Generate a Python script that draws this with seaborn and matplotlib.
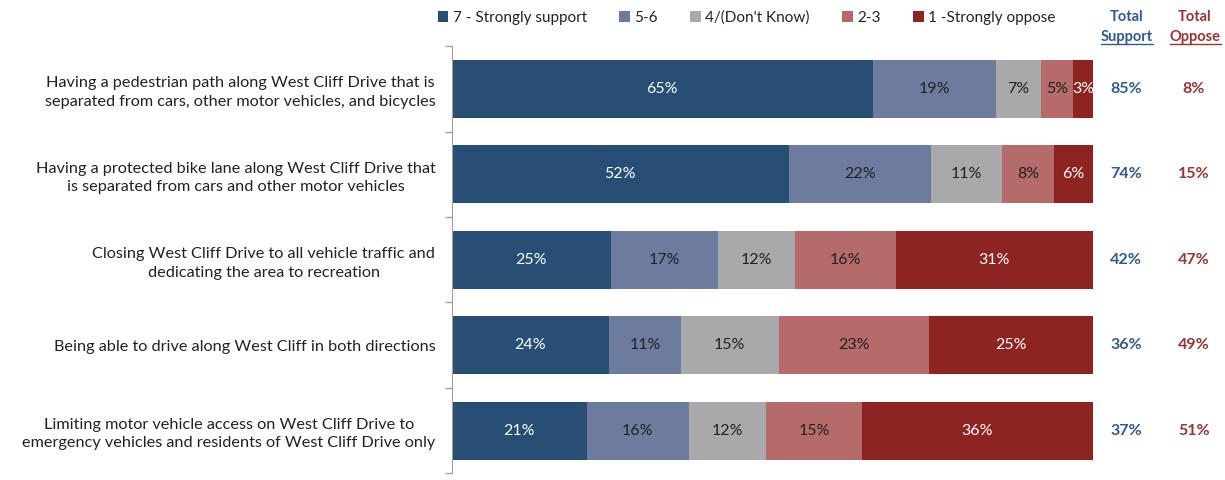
import numpy as np
import pandas as pd
import matplotlib
matplotlib.use("Agg")
import matplotlib.pyplot as plt
from matplotlib.patches import Patch
import seaborn as sns

# data
items = [
    "Having a pedestrian path along West Cliff Drive that is\nseparated from cars, other motor vehicles, and bicycles",
    "Having a protected bike lane along West Cliff Drive that\nis separated from cars and other motor vehicles",
    "Closing West Cliff Drive to all vehicle traffic and\ndedicating the area to recreation",
    "Being able to drive along West Cliff in both directions",
    "Limiting motor vehicle access on West Cliff Drive to\nemergency vehicles and residents of West Cliff Drive only",
]
levels = ["7 - Strongly support", "5-6", "4/(Don't Know)", "2-3", "1 -Strongly oppose"]
strong_support = [65, 52, 25, 24, 21]
support_56 = [19, 22, 17, 11, 16]
dont_know = [7, 11, 12, 15, 12]
oppose_23 = [5, 8, 16, 23, 15]
strong_oppose = [3, 6, 31, 25, 36]
total_support = [85, 74, 42, 36, 37]
total_oppose = [8, 15, 47, 49, 51]

colors = ["#274E74", "#6C7B9E", "#A9A9AC", "#B46B69", "#8D2422"]
text_colors = ["white", "#222222", "#222222", "#222222", "white"]

sns.set_style("white")
plt.rcParams["font.family"] = ["Lato", "DejaVu Sans"]

vals = np.array([strong_support, support_56, dont_know, oppose_23, strong_oppose], dtype=float)
shares = vals / vals.sum(axis=0)          # 100% stacked
cum = shares.cumsum(axis=0)

fig = plt.figure(figsize=(12.25, 4.8), dpi=100)
ax = fig.add_axes([0.369, 0.014, 0.523, 0.89])

# draw from the outermost cumulative layer inwards so the stack shows
for i in range(len(levels) - 1, -1, -1):
    df = pd.DataFrame({"item": items, "right": cum[i]})
    sns.barplot(data=df, x="right", y="item", color=colors[i], orient="h",
                width=0.68, saturation=1, ax=ax, edgecolor="none")

for i in range(len(levels)):
    for j in range(len(items)):
        mid = cum[i, j] - shares[i, j] / 2
        ax.text(mid, j, f"{int(vals[i, j])}%", ha="center", va="center",
                fontsize=11.5, color=text_colors[i])

ax.set_xlim(0, 1)
ax.set_ylim(4.5, -0.5)
ax.set_xlabel("")
ax.set_ylabel("")
ax.set_xticks([])
ax.set_yticks(np.arange(len(items)))
ax.set_yticklabels(items, fontsize=11.7, color="#222222", multialignment="center",
                   linespacing=1.4)
ax.set_yticks(np.arange(-0.5, len(items)), minor=True)
ax.tick_params(axis="y", which="major", left=False, length=0, pad=12)
ax.tick_params(axis="y", which="minor", left=True, length=5, color="#A0A0A0", width=1)
for s in ["top", "right", "bottom"]:
    ax.spines[s].set_visible(False)
ax.spines["left"].set_color("#A0A0A0")

# totals columns
for j in range(len(items)):
    ax.text(1.052, j, f"{total_support[j]}%", ha="center", va="center",
            fontsize=11.5, fontweight="bold", color="#2F5A8A", clip_on=False)
    ax.text(1.158, j, f"{total_oppose[j]}%", ha="center", va="center",
            fontsize=11.5, fontweight="bold", color="#943634", clip_on=False)

fig.text(1127 / 1225, 1 - 17 / 480, "Total", ha="center", va="center",
         fontsize=10.5, fontweight="bold", color="#2F5A8A")
t1 = fig.text(1127 / 1225, 1 - 37 / 480, "Support", ha="center", va="center",
              fontsize=10.5, fontweight="bold", color="#2F5A8A")
fig.text(1195 / 1225, 1 - 17 / 480, "Total", ha="center", va="center",
         fontsize=10.5, fontweight="bold", color="#943634")
t2 = fig.text(1195 / 1225, 1 - 37 / 480, "Oppose", ha="center", va="center",
              fontsize=10.5, fontweight="bold", color="#943634")

handles = [Patch(facecolor=c, edgecolor="none") for c in colors]
fig.legend(handles, levels, loc="center left", bbox_to_anchor=(424 / 1225, 1 - 18 / 480),
           ncol=5, frameon=False, fontsize=11, handlelength=0.7, handleheight=0.7,
           handletextpad=0.3, columnspacing=2.1, labelcolor="#222222")

# underline the second header line
fig.canvas.draw()
r = fig.canvas.get_renderer()
for t, c in [(t1, "#2F5A8A"), (t2, "#943634")]:
    bb = t.get_window_extent(r).transformed(fig.transFigure.inverted())
    fig.add_artist(plt.Line2D([bb.x0, bb.x1], [bb.y0, bb.y0], color=c, lw=1,
                              transform=fig.transFigure))

fig.savefig("out.png", dpi=100)
